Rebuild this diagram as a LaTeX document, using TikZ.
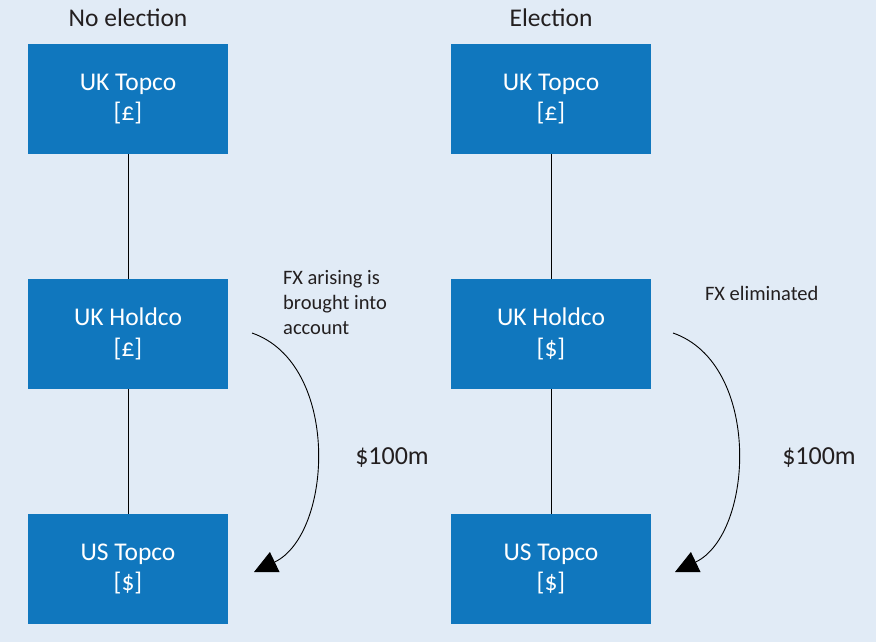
\documentclass[tikz,border=0pt]{standalone}
\usepackage{fontspec}
\setmainfont{Carlito}
\usetikzlibrary{arrows.meta}
\definecolor{bgc}{HTML}{E1EBF6}
\definecolor{boxc}{HTML}{1077BE}
\definecolor{txtc}{HTML}{231F20}
\tikzset{
  entity/.style={fill=boxc, draw=none, text=white, minimum width=200pt, minimum height=110pt,
    inner sep=0pt, align=center, font=\fontsize{25.5}{30.5}\selectfont},
  title/.style={text=txtc, inner sep=0pt, font=\fontsize{25.5}{29}\selectfont},
  note/.style={text=txtc, inner sep=0pt, align=left, font=\fontsize{20.5}{25}\selectfont},
  amount/.style={text=txtc, inner sep=0pt, font=\fontsize{26}{29}\selectfont},
  link/.style={draw=black, line width=0.9pt},
  flow/.style={draw=black, line width=0.9pt, -{Triangle[length=23pt,width=22pt]}}
}
\begin{document}
\begin{tikzpicture}[x=1pt,y=-1pt]
\fill[bgc] (0,0) rectangle (876,642);
\useasboundingbox (0,0) rectangle (876,642);
% left column
\node[title] (t1) at (128,18) {No election};
\node[entity] (a1) at (128,99) {UK Topco\\{[£]}};
\node[entity] (a2) at (128,334) {UK Holdco\\{[£]}};
\node[entity] (a3) at (128,569) {US Topco\\{[\$]}};
\draw[link] (a1) -- (a2);
\draw[link] (a2) -- (a3);
\node[note, anchor=north west] (n1) at (283,270) {FX arising is\\brought into\\account};
\node[amount] (m1) at (392,458) {\$100m};
\coordinate (s1) at (252,333);
\coordinate (e1) at (254,572);
\draw[flow] (s1) .. controls (341,364) and (333,534) .. (e1);
% right column
\node[title] (t2) at (551,18) {Election};
\node[entity] (b1) at (551,99) {UK Topco\\{[£]}};
\node[entity] (b2) at (551,334) {UK Holdco\\{[\$]}};
\node[entity] (b3) at (551,569) {US Topco\\{[\$]}};
\draw[link] (b1) -- (b2);
\draw[link] (b2) -- (b3);
\node[note, anchor=west] (n2) at (705,293) {FX eliminated};
\node[amount] (m2) at (819,458) {\$100m};
\coordinate (s2) at (673,333);
\coordinate (e2) at (675,572);
\draw[flow] (s2) .. controls (762,364) and (754,534) .. (e2);
\end{tikzpicture}
\end{document}
